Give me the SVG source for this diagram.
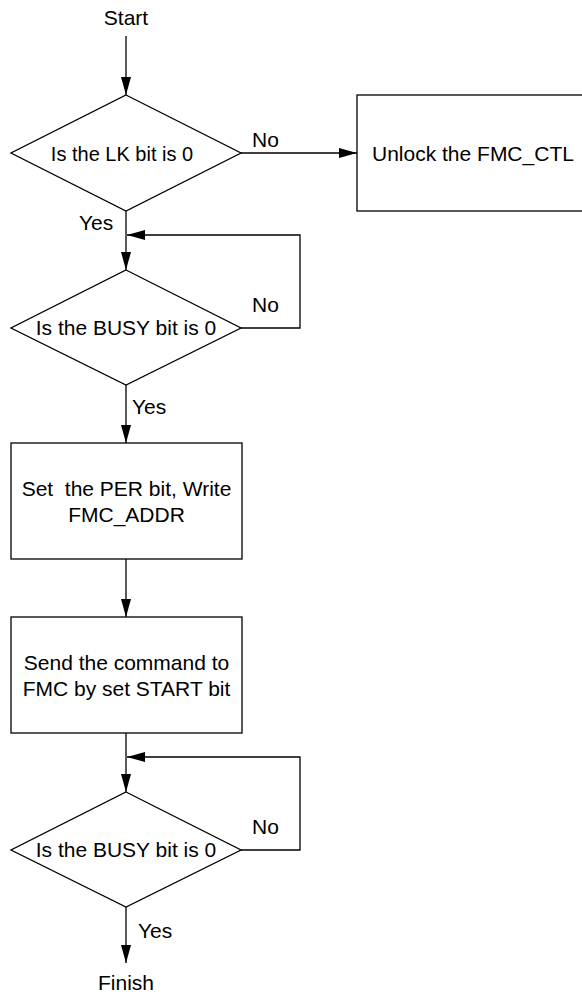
<svg xmlns="http://www.w3.org/2000/svg" width="582" height="994" viewBox="0 0 582 994">
<style>
.s{fill:#fff;stroke:#000;stroke-width:1.3}
.c{fill:none;stroke:#000;stroke-width:1.3}
text{font-family:"Liberation Sans",Arial,sans-serif;font-size:21px;fill:#000}
.m{text-anchor:middle}
</style>
<defs>
<marker id="ah" viewBox="0 0 18 10" refX="18" refY="5" markerWidth="18" markerHeight="10" markerUnits="userSpaceOnUse" orient="auto">
<path d="M0,0 L18,5 L0,10 Z" fill="#000"/>
</marker>
</defs>
<g id="connectors">
<line class="c" x1="126" y1="36" x2="126" y2="95" marker-end="url(#ah)"/>
<line class="c" x1="241" y1="153" x2="357" y2="153" marker-end="url(#ah)"/>
<line class="c" x1="126" y1="211" x2="126" y2="270" marker-end="url(#ah)"/>
<polyline class="c" points="241,328 300,328 300,235 127,235" marker-end="url(#ah)"/>
<line class="c" x1="126" y1="385" x2="126" y2="443" marker-end="url(#ah)"/>
<line class="c" x1="126" y1="559" x2="126" y2="617" marker-end="url(#ah)"/>
<line class="c" x1="126" y1="733" x2="126" y2="792" marker-end="url(#ah)"/>
<polyline class="c" points="241,850 300,850 300,757 127,757" marker-end="url(#ah)"/>
<line class="c" x1="126" y1="907" x2="126" y2="963" marker-end="url(#ah)"/>
<text x="252" y="147">No</text>
<text x="79" y="230">Yes</text>
<text x="252" y="312">No</text>
<text x="132" y="414">Yes</text>
<text x="252" y="834">No</text>
<text x="138" y="938">Yes</text>
</g>
<g id="start"><text class="m" x="126" y="25">Start</text></g>
<g id="d1">
<polygon class="s" points="126,95 241,153 126,211 11,153"/>
<text class="m" x="122" y="161" style="font-size:20px">Is the LK bit is 0</text>
</g>
<g id="unlock">
<rect class="s" x="357" y="95" width="240" height="116"/>
<text x="372" y="161">Unlock the FMC_CTL</text>
</g>
<g id="d2">
<polygon class="s" points="126,270 241,328 126,385 11,328"/>
<text class="m" x="126" y="335">Is the BUSY bit is 0</text>
</g>
<g id="b1">
<rect class="s" x="11" y="443" width="231" height="116"/>
<text class="m" x="126.5" y="496" xml:space="preserve">Set  the PER bit, Write</text>
<text class="m" x="126.5" y="522">FMC_ADDR</text>
</g>
<g id="b2">
<rect class="s" x="11" y="617" width="231" height="116"/>
<text class="m" x="126.5" y="670">Send the command to</text>
<text class="m" x="126.5" y="696">FMC by set START bit</text>
</g>
<g id="d3">
<polygon class="s" points="126,792 241,850 126,907 11,850"/>
<text class="m" x="126" y="857">Is the BUSY bit is 0</text>
</g>
<g id="finish"><text class="m" x="126" y="990">Finish</text></g>
</svg>
